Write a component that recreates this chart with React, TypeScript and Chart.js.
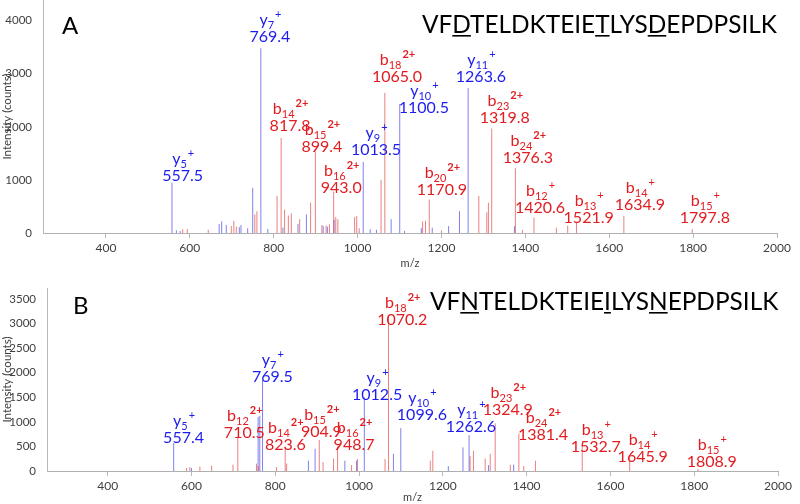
import React, { useEffect, useRef } from 'react';
import { Chart, registerables } from 'chart.js';
Chart.register(...registerables);

const FONT = "Lato, 'Open Sans', sans-serif";
const RED = 'rgb(226,28,32)';
const BLUE = 'rgb(28,28,238)';
const RED_STICK = 'rgba(222,50,50,0.62)';
const BLUE_STICK = 'rgba(50,50,228,0.62)';

// ---- axes ----
const xTicks = [400, 600, 800, 1000, 1200, 1400, 1600, 1800, 2000];
const yTicksA = [0, 1000, 2000, 3000, 4000];
const yTicksB = [0, 500, 1000, 1500, 2000, 2500, 3000, 3500];

// ---- panel A peaks ----
const redMzA = [583, 594, 644, 699, 705, 711, 755, 760, 808, 817.8, 826, 835, 842, 862, 888, 899.4, 915, 925, 933, 943.0, 948, 953, 993, 998, 1004, 1056, 1065.0, 1155, 1162, 1170.9, 1200, 1289, 1308, 1312, 1319.8, 1376.3, 1393, 1420.6, 1474, 1501, 1521.9, 1634.9, 1797.8];
const redIntA = [70, 75, 60, 130, 230, 120, 350, 410, 700, 1790, 440, 330, 370, 260, 570, 1530, 150, 140, 160, 780, 300, 260, 300, 320, 90, 1000, 2640, 220, 230, 630, 50, 700, 390, 570, 1970, 1220, 60, 290, 100, 140, 190, 320, 70];
const blueMzA = [557.5, 568, 577, 670, 676, 687, 718, 722, 738, 750, 769.4, 786, 822, 858, 878, 918, 928, 944, 1013.5, 1030, 1045, 1080, 1100.5, 1112, 1152, 1178, 1217, 1243, 1263.6, 1374];
const blueIntA = [950, 50, 40, 170, 220, 150, 110, 150, 90, 850, 3480, 75, 100, 170, 350, 130, 120, 250, 1340, 70, 60, 260, 2430, 40, 90, 100, 130, 410, 2730, 130];

// ---- panel B peaks ----
const redMzB = [588, 596, 620, 648, 699, 710.5, 755, 759, 803, 823.6, 827, 904.9, 914, 939, 948.7, 982, 996, 1062, 1070.2, 1170, 1176, 1265, 1273, 1301, 1313, 1324.9, 1361, 1381.4, 1393, 1421, 1532.7, 1645.9, 1808.9];
const redIntB = [60, 80, 90, 110, 130, 700, 150, 100, 80, 500, 150, 630, 180, 250, 500, 120, 245, 245, 3140, 210, 410, 300, 410, 250, 350, 970, 130, 765, 100, 210, 565, 290, 40];
const blueMzB = [557.4, 600, 759, 763, 769.5, 879, 895, 966, 994, 1012.5, 1082, 1099.6, 1213, 1248, 1262.6, 1309, 1369];
const blueIntB = [570, 60, 1100, 1120, 1850, 210, 450, 210, 210, 1500, 350, 870, 100, 480, 730, 120, 130];

// ---- fragment labels: ion, subscript, superscript, m/z text, anchor m/z, anchor intensity ----
type Lbl = [string, string, string, string, number, number];
const labelsA: Lbl[] = [
  ['y', '5', '+', '557.5', 583, 980],
  ['y', '7', '+', '769.4', 791, 3598],
  ['b', '14', '2+', '817.8', 839, 1922],
  ['b', '15', '2+', '899.4', 915, 1526],
  ['y', '9', '+', '1013.5', 1044, 1469],
  ['b', '16', '2+', '943.0', 961, 754],
  ['b', '18', '2+', '1065.0', 1094, 2845],
  ['y', '10', '+', '1100.5', 1158, 2261],
  ['y', '11', '+', '1263.6', 1294, 2845],
  ['b', '23', '2+', '1319.8', 1351, 2072],
  ['b', '24', '2+', '1376.3', 1406, 1319],
  ['b', '20', '2+', '1170.9', 1201, 716],
  ['b', '12', '+', '1420.6', 1435, 377],
  ['b', '13', '+', '1521.9', 1551, 188],
  ['b', '14', '+', '1634.9', 1673, 433],
  ['b', '15', '+', '1797.8', 1828, 188],
];
const labelsB: Lbl[] = [
  ['y', '5', '+', '557.4', 581, 570],
  ['y', '7', '+', '769.5', 793, 1811],
  ['b', '12', '2+', '710.5', 726, 672],
  ['b', '14', '2+', '823.6', 824, 427],
  ['b', '15', '2+', '904.9', 910, 692],
  ['b', '16', '2+', '948.7', 988, 427],
  ['y', '9', '+', '1012.5', 1043, 1445],
  ['b', '18', '2+', '1070.2', 1103, 2971],
  ['y', '10', '+', '1099.6', 1150, 1038],
  ['y', '11', '+', '1262.6', 1267, 794],
  ['b', '23', '2+', '1324.9', 1355, 1140],
  ['b', '24', '2+', '1381.4', 1439, 631],
  ['b', '13', '+', '1532.7', 1565, 387],
  ['b', '14', '+', '1645.9', 1677, 183],
  ['b', '15', '+', '1808.9', 1842, 81],
];

const seqA = 'VFDTELDKTEIETLYSDEPDPSILK';
const seqB = 'VFNTELDKTEIEILYSNEPDPSILK';
const underlineIdx = [2, 12, 16];

function sticks(mz: number[], it: number[]) {
  const d: { x: number; y: number | null }[] = [];
  mz.forEach((m, i) => {
    d.push({ x: m, y: 0 }, { x: m, y: it[i] }, { x: m, y: null });
  });
  return d;
}

interface PanelCfg {
  top: number;
  height: number;
  padTop: number;
  padRight: number;
  yWidth: number;
  xHeight: number;
  xMin: number;
  yMax: number;
  yTicks: number[];
  titleBottomPad: number;
  redMz: number[];
  redInt: number[];
  blueMz: number[];
  blueInt: number[];
  labels: Lbl[];
  letter: string;
  letterPos: [number, number];
  seq: string;
  seqPos: [number, number];
}

const panels: PanelCfg[] = [
  {
    top: 0, height: 272, padTop: 0, padRight: 23, yWidth: 43, xHeight: 39, xMin: 250, yMax: 4390,
    yTicks: yTicksA, titleBottomPad: 2, redMz: redMzA, redInt: redIntA, blueMz: blueMzA, blueInt: blueIntA,
    labels: labelsA, letter: 'A', letterPos: [62, 34], seq: seqA, seqPos: [422, 33],
  },
  {
    top: 272, height: 232, padTop: 16, padRight: 22, yWidth: 47, xHeight: 33, xMin: 255, yMax: 3720,
    yTicks: yTicksB, titleBottomPad: 0, redMz: redMzB, redInt: redIntB, blueMz: blueMzB, blueInt: blueIntB,
    labels: labelsB, letter: 'B', letterPos: [73, 314 - 272], seq: seqB, seqPos: [430, 310 - 272],
  },
];

function makeAnnot(cfg: PanelCfg) {
  return {
    id: 'annot' + cfg.letter,
    afterDatasetsDraw(chart: any) {
      const { ctx } = chart;
      const xs = chart.scales.x;
      const ys = chart.scales.y;
      ctx.save();
      ctx.textBaseline = 'alphabetic';
      cfg.labels.forEach(([ion, sub, sup, txt, mz, it]) => {
        const px = xs.getPixelForValue(mz);
        const py = ys.getPixelForValue(it);
        ctx.fillStyle = ion === 'y' ? BLUE : RED;
        ctx.font = `16px ${FONT}`;
        ctx.textAlign = 'center';
        ctx.fillText(txt, px, py);
        ctx.textAlign = 'left';
        const w1 = ctx.measureText(ion).width;
        ctx.font = `11px ${FONT}`;
        const w2 = ctx.measureText(sub).width;
        const w3 = ctx.measureText(sup).width;
        let sx = px - (w1 + w2 + w3) / 2;
        const by = py - 17;
        ctx.font = `16px ${FONT}`;
        ctx.fillText(ion, sx, by);
        sx += w1;
        ctx.font = `11px ${FONT}`;
        ctx.fillText(sub, sx, by + 4);
        sx += w2 + 1;
        ctx.font = sup === '2+' ? `bold 11px ${FONT}` : `11px ${FONT}`;
        ctx.fillText(sup, sx, by - 7);
      });
      // panel letter
      ctx.fillStyle = '#000';
      ctx.font = `24px ${FONT}`;
      ctx.fillText(cfg.letter, cfg.letterPos[0], cfg.letterPos[1]);
      // sequence
      ctx.font = `24.4px ${FONT}`;
      ctx.fillText(cfg.seq, cfg.seqPos[0], cfg.seqPos[1]);
      underlineIdx.forEach((i) => {
        const x0 = cfg.seqPos[0] + ctx.measureText(cfg.seq.slice(0, i)).width;
        const w = ctx.measureText(cfg.seq[i]).width;
        ctx.fillRect(x0, cfg.seqPos[1] + 2, w, 1.6);
      });
      ctx.restore();
    },
  };
}

function Panel({ cfg }: { cfg: PanelCfg }) {
  const ref = useRef<HTMLCanvasElement>(null);
  useEffect(() => {
    if (!ref.current) return;
    const chart = new Chart(ref.current, {
      type: 'line',
      data: {
        datasets: [
          {
            data: sticks(cfg.redMz, cfg.redInt) as any,
            borderColor: RED_STICK,
            borderWidth: 1,
            pointRadius: 0,
            pointHoverRadius: 0,
            spanGaps: false,
          },
          {
            data: sticks(cfg.blueMz, cfg.blueInt) as any,
            borderColor: BLUE_STICK,
            borderWidth: 1,
            pointRadius: 0,
            pointHoverRadius: 0,
            spanGaps: false,
          },
        ],
      },
      options: {
        responsive: false,
        animation: false,
        devicePixelRatio: 1,
        events: [],
        layout: { padding: { left: 0, top: cfg.padTop, right: cfg.padRight, bottom: 0 } },
        plugins: { legend: { display: false }, tooltip: { enabled: false } },
        scales: {
          x: {
            type: 'linear',
            min: cfg.xMin,
            max: 2000,
            offset: false,
            afterBuildTicks: (s: any) => {
              s.ticks = xTicks.map((v) => ({ value: v }));
            },
            afterFit: (s: any) => {
              s.height = cfg.xHeight;
            },
            grid: { display: true, drawOnChartArea: false, drawTicks: true, tickLength: 5, color: '#b8b8b8' },
            border: { display: true, color: '#b0b0b0', width: 1 },
            ticks: {
              color: '#404040', font: { family: FONT, size: 12 }, padding: 3, maxRotation: 0, autoSkip: false,
              callback: (v: any) => String(v),
            },
            title: { display: true, text: 'm/z', color: '#404040', font: { family: FONT, size: 11 }, padding: { top: 0, bottom: cfg.titleBottomPad } },
          },
          y: {
            type: 'linear',
            min: 0,
            max: cfg.yMax,
            afterBuildTicks: (s: any) => {
              s.ticks = cfg.yTicks.map((v) => ({ value: v }));
            },
            afterFit: (s: any) => {
              s.width = cfg.yWidth;
              s.paddingTop = 0;
              s.paddingBottom = 0;
            },
            grid: { display: false },
            border: { display: true, color: '#b8b8b8', width: 1 },
            ticks: { color: '#404040', font: { family: FONT, size: 11.5 }, padding: 3, callback: (v: any) => String(v) },
            title: { display: true, text: 'Intensity (counts)', color: '#404040', font: { family: FONT, size: 11.5 }, padding: { top: 0, bottom: 0 } },
          },
        },
      },
      plugins: [makeAnnot(cfg)],
    });
    return () => chart.destroy();
  }, [cfg]);
  return (
    <canvas
      ref={ref}
      width={800}
      height={cfg.height}
      style={{ position: 'absolute', left: 0, top: cfg.top, width: 800, height: cfg.height }}
    />
  );
}

export default function App() {
  return (
    <div style={{ position: 'fixed', left: 0, top: 0, width: 800, height: 504, background: '#fff', overflow: 'hidden' }}>
      {panels.map((p) => (
        <Panel key={p.letter} cfg={p} />
      ))}
    </div>
  );
}
